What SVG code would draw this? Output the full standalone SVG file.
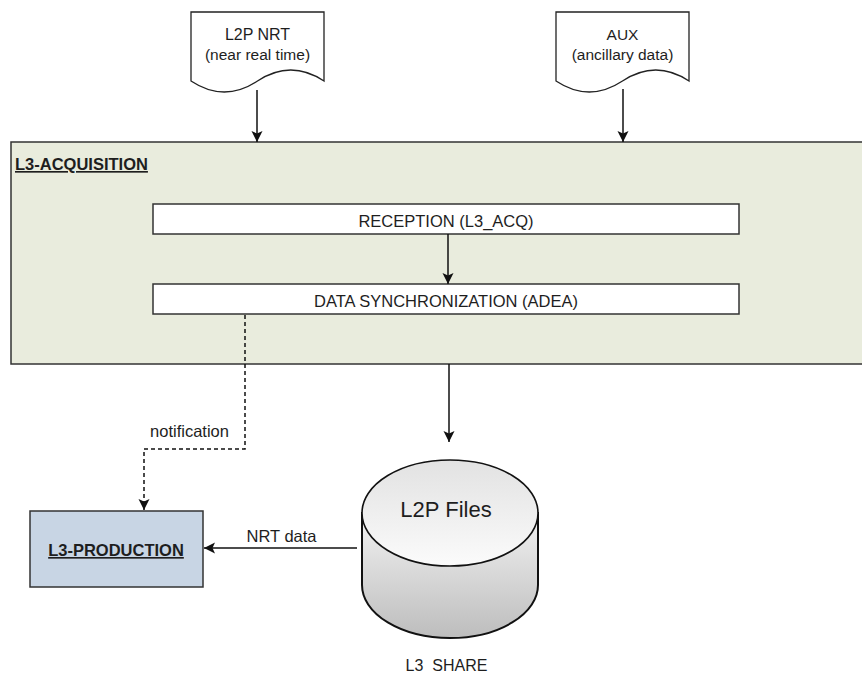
<svg xmlns="http://www.w3.org/2000/svg" width="862" height="673" viewBox="0 0 862 673">
<defs>
<style>
text{font-family:"Liberation Sans",Arial,sans-serif;fill:#1e1e1e;}
.t{font-size:16px;}
.b{font-size:16.5px;font-weight:bold;text-decoration:underline;}
.box{stroke:#333;stroke-width:1.5;}
.ln{fill:none;stroke:#111;stroke-width:1.5;}
.dash{stroke-dasharray:4 3;}
</style>
<marker id="arr" markerUnits="userSpaceOnUse" markerWidth="12" markerHeight="12" viewBox="0 0 12 12" refX="11" refY="6" orient="auto">
<path d="M0,0.5 L11,6 L0,11.5 L2.5,6 Z" fill="#111"/>
</marker>
<linearGradient id="cylTop" x1="0" y1="0" x2="0" y2="1">
<stop offset="0" stop-color="#e2e2e2"/>
<stop offset="1" stop-color="#fbfbfb"/>
</linearGradient>
<linearGradient id="cylSide" x1="0" y1="0" x2="0" y2="1">
<stop offset="0" stop-color="#f2f2f2"/>
<stop offset="1" stop-color="#bdbdbd"/>
</linearGradient>
</defs>
<rect width="862" height="673" fill="#fff"/>

<g id="container-acquisition">
<rect x="11" y="142" width="860" height="222" fill="#e9ecdd" class="box"/>
<text class="b" x="15" y="170">L3-ACQUISITION</text>
</g>

<g id="doc-l2p-nrt">
<path d="M191,12 H324 V81 Q290.75,59 257.5,81 Q224.25,103 191,81 Z" fill="#fff" stroke="#222" stroke-width="1.3"/>
<text class="t" x="257.5" y="40" text-anchor="middle" font-size="15.5">L2P NRT</text>
<text class="t" x="257.5" y="60" text-anchor="middle" style="font-size:15.5px">(near real time)</text>
</g>

<g id="doc-aux">
<path d="M556,12 H689 V81 Q655.75,59 622.5,81 Q589.25,103 556,81 Z" fill="#fff" stroke="#222" stroke-width="1.3"/>
<text x="622.5" y="40" text-anchor="middle" style="font-size:15.5px">AUX</text>
<text x="622.5" y="60" text-anchor="middle" style="font-size:15.5px">(ancillary data)</text>
</g>

<g id="node-reception">
<rect x="153" y="204" width="586" height="30" fill="#fff" class="box"/>
<text class="t" x="446" y="227" text-anchor="middle" style="font-size:16.5px">RECEPTION (L3_ACQ)</text>
</g>

<g id="node-sync">
<rect x="153" y="284" width="586" height="30" fill="#fff" class="box"/>
<text class="t" x="446" y="307" text-anchor="middle" style="font-size:16.5px">DATA SYNCHRONIZATION (ADEA)</text>
</g>

<g id="node-production">
<rect x="30" y="511" width="173" height="76" fill="#c8d5e4" class="box"/>
<text class="b" x="116" y="556" text-anchor="middle">L3-PRODUCTION</text>
</g>

<g id="node-l2p-files">
<path d="M362,513 V585 A88,53 0 0 0 538,585 V513 Z" fill="url(#cylSide)" stroke="#111" stroke-width="2"/>
<ellipse cx="450" cy="513" rx="88" ry="53" fill="url(#cylTop)" stroke="#111" stroke-width="1.6"/>
<text x="446" y="517" text-anchor="middle" style="font-size:22px">L2P Files</text>
<text x="446.5" y="671" text-anchor="middle" style="font-size:16px;white-space:pre" xml:space="preserve">L3  SHARE</text>
</g>

<g id="connectors">
<line class="ln" x1="257" y1="90" x2="257" y2="142" marker-end="url(#arr)"/>
<line class="ln" x1="623" y1="89" x2="623" y2="142" marker-end="url(#arr)"/>
<line class="ln" x1="448" y1="234" x2="448" y2="284" marker-end="url(#arr)"/>
<line class="ln" x1="449" y1="364" x2="449" y2="442" marker-end="url(#arr)"/>
<polyline class="ln dash" points="245,315 245,449 144,449 144,510" marker-end="url(#arr)"/>
<text x="189.5" y="437" text-anchor="middle" style="font-size:16.5px">notification</text>
<line class="ln" x1="357" y1="548" x2="204" y2="548" marker-end="url(#arr)"/>
<text x="281.5" y="542" text-anchor="middle" style="font-size:16.5px">NRT data</text>
</g>
</svg>
